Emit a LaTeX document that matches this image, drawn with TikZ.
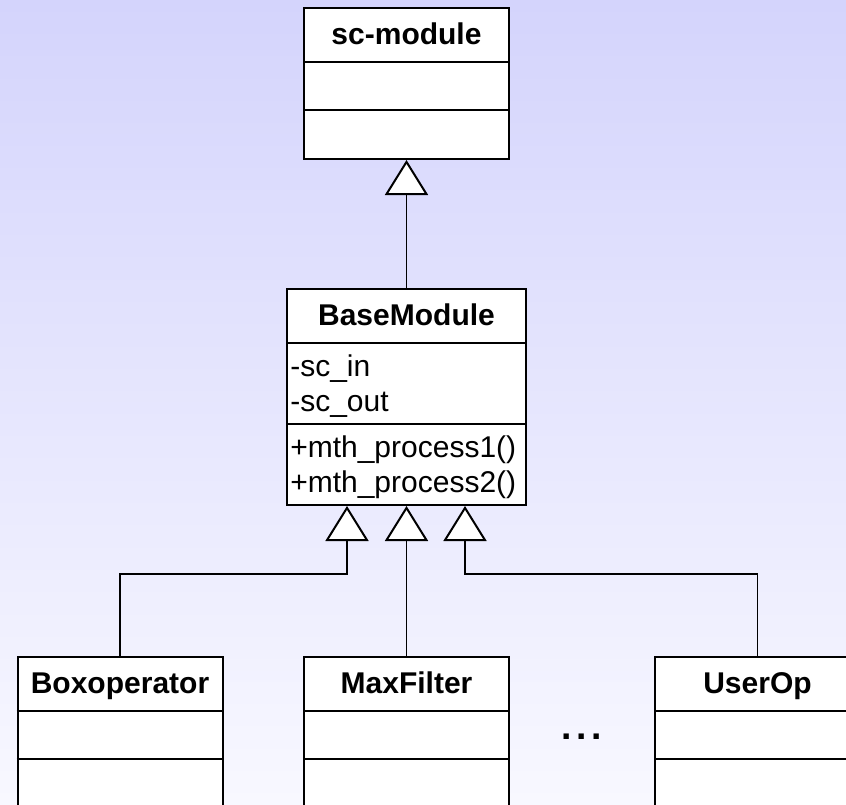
\documentclass[tikz,border=0pt]{standalone}
\usepackage{fontspec}
\setmainfont{Liberation Sans}
\usetikzlibrary{arrows.meta,calc}
\definecolor{bgtop}{RGB}{212,212,252}
\definecolor{bgbot}{RGB}{248,248,255}
\begin{document}
\begin{tikzpicture}[x=0.75pt,y=-0.75pt,
  classbox/.style={draw=black,fill=white,line width=1.5pt,inner sep=0pt,anchor=north,
                   minimum width=153.75pt,minimum height=113.25pt},
  titletext/.style={font=\fontsize{22.5}{27}\selectfont\bfseries,inner sep=0pt,anchor=base},
  member/.style={font=\fontsize{22.5}{27}\selectfont,inner sep=0pt,anchor=base west},
  divider/.style={line width=1.5pt},
  inherit/.style={line width=1.3pt,
    -{Triangle[width=32.25pt,length=26.25pt,fill=white,line width=1.5pt]}}]

% background
\shade[top color=bgtop,bottom color=bgbot] (0,0) rectangle (846,804);
\useasboundingbox (0,0) rectangle (846,804);
\clip (0,0) rectangle (846,804);

% class boxes
\node[classbox] (scmod) at (406.5,7) {};
\node[classbox,minimum width=179.25pt,minimum height=162pt] (base) at (406.5,288) {};
\node[classbox] (boxop) at (120,656) {};
\node[classbox] (maxf) at (406.5,656) {};
\node[classbox] (userop) at (757.5,656) {};

% compartment dividers
\foreach \c in {scmod,boxop,maxf,userop}{
  \draw[divider] ($(\c.north west)+(0,55)$) -- ($(\c.north east)+(0,55)$);
  \draw[divider] ($(\c.north west)+(0,103)$) -- ($(\c.north east)+(0,103)$);
}
\draw[divider] ($(base.north west)+(0,55)$) -- ($(base.north east)+(0,55)$);
\draw[divider] ($(base.north west)+(0,136)$) -- ($(base.north east)+(0,136)$);

% class names, set on a common baseline within each header
\node[titletext] (scmodname) at ($(scmod.north)+(0,37)$) {sc-module};
\node[titletext] (basename) at ($(base.north)+(0,37)$) {BaseModule};
\node[titletext] (boxopname) at ($(boxop.north)+(0,37)$) {Boxoperator};
\node[titletext] (maxfname) at ($(maxf.north)+(0,37)$) {MaxFilter};
\node[titletext] (useropname) at ($(userop.north)+(0,37)$) {UserOp};

% members of BaseModule
\node[member] (m1) at ($(base.north west)+(4,88)$) {-sc\_in};
\node[member] (m2) at ($(base.north west)+(4,123)$) {-sc\_out};
\node[member] (m3) at ($(base.north west)+(4,169)$) {+mth\_process1()};
\node[member] (m4) at ($(base.north west)+(4,204)$) {+mth\_process2()};

% further subclasses
\node[titletext,font=\fontsize{28}{32}\selectfont\bfseries] (more) at (582,739)
  {.\kern3.5pt.\kern3.5pt.};

% inheritance connectors
\coordinate (bl) at ($(base.south)+(-59.5,0)$);
\coordinate (br) at ($(base.south)+(58.5,0)$);
\draw[inherit] (base.north) -- (scmod.south);
\draw[inherit] (maxf.north) -- (base.south);
\draw[inherit] (boxop.north) -- ++(0,-82) -| (bl);
\draw[inherit] (userop.north) -- ++(0,-82) -| (br);
\end{tikzpicture}
\end{document}
